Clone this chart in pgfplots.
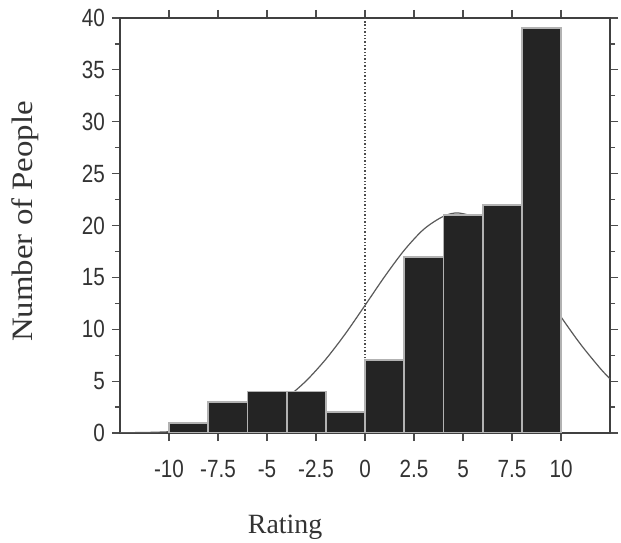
\documentclass[border=0pt]{standalone}
\usepackage{pgfplots}
\pgfplotsset{compat=1.18}
\usepackage{fontspec}
\setmainfont{Liberation Serif}
\newfontfamily\arial{Liberation Sans}
\newcommand\sx[1]{\scalebox{0.83}[1]{#1}}
\begin{document}
\begin{tikzpicture}
\begin{axis}[
 scale only axis, width=245bp, height=207.5bp,
 xmin=-12.5, xmax=12.5, ymin=0, ymax=40,
 xtick={-10,-7.5,-5,-2.5,0,2.5,5,7.5,10},
 xticklabels={\sx{-10},\sx{-7.5},\sx{-5},\sx{-2.5},\sx{0},\sx{2.5},\sx{5},\sx{7.5},\sx{10}},
 ytick={0,5,10,15,20,25,30,35,40},
 yticklabels={\sx{0},\sx{5},\sx{10},\sx{15},\sx{20},\sx{25},\sx{30},\sx{35},\sx{40}},
 minor y tick num=1,
 tick align=outside,
 major tick length=4bp, minor tick length=2.5bp,
 tick style={black!70, line width=0.6bp},
 axis line style={black!75, line width=0.7bp},
 ticklabel style={font=\arial\fontsize{12.5}{14}\selectfont, text=black!80},
 xticklabel style={yshift=-6bp},
 xlabel={Rating},
 ylabel={\scalebox{1}[0.9]{Number of People}},
 xlabel style={at={(axis description cs:0.337,-0.2265)}, anchor=center, font=\fontsize{14}{16}\selectfont, text=black!80},
 ylabel style={at={(axis description cs:-0.194,0.51)}, anchor=center, font=\fontsize{16.5}{18}\selectfont, text=black!80},
 clip=true,
]
\addplot[smooth, black!65, line width=0.6bp] coordinates {
(-12.5,0.02) (-11,0.06) (-10,0.12) (-9,0.24) (-8,0.44) (-7,0.79) (-6,1.35)
(-5,2.19) (-4,3.40) (-3,5.03) (-2,7.11) (-1,9.57) (0,12.30) (1,15.07)
(2,17.61) (3,19.64) (4,20.88) (4.8,21.2) (6,20.49) (7,18.91) (8,16.64)
(9,13.98) (10,11.19) (11,8.55) (12,6.23) (12.5,5.22)};
\addplot[densely dotted, black!70, line width=0.7bp] coordinates {(0,0) (0,40)};
\addplot[ybar interval, fill=black!86, draw=black!30, line width=0.9bp] coordinates {
(-10,1) (-8,3) (-6,4) (-4,4) (-2,2) (0,7) (2,17) (4,21) (6,22) (8,39) (10,39)};
\end{axis}
\pgfresetboundingbox
\path (-60bp,-55bp) rectangle (250.5bp,216.5bp);
\end{tikzpicture}
\end{document}
